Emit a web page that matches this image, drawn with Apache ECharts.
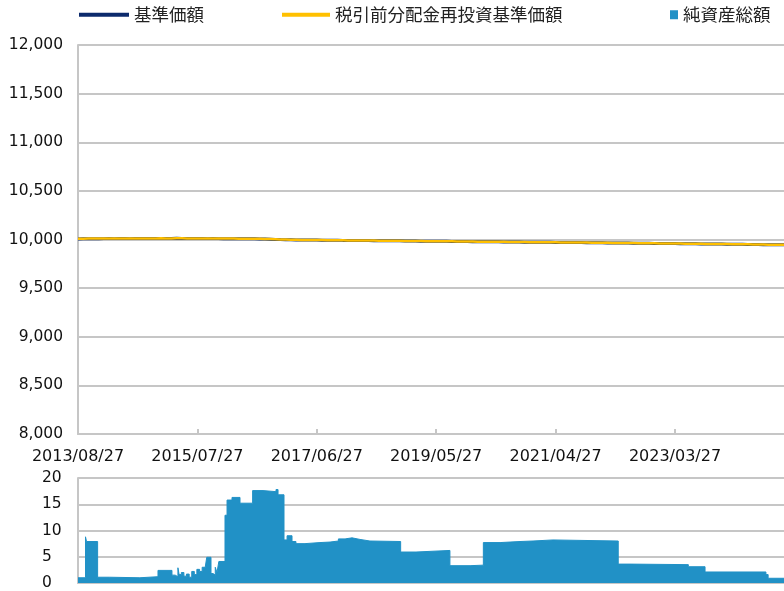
<!DOCTYPE html>
<html><head><meta charset="utf-8">
<script src="https://cdn.jsdelivr.net/npm/echarts@6/dist/echarts.min.js"></script>
<style>html,body{margin:0;padding:0;background:#fff}#c{width:784px;height:591px}</style>
</head><body><div id="c"></div>
<script>
// monthly categories 2013/08/27 .. 2024/12/27
const categories = [];
for (let y = 2013, m = 8; y < 2025; ) {
  categories.push(y + '/' + String(m).padStart(2, '0') + '/27');
  m++; if (m > 12) { m = 1; y++; }
  if (y === 2024 && m === 13) break;
}
const navNames = ['基準価額', '税引前分配金再投資基準価額', '純資産総額'];

const navValues = [
10006,10007,10008,10009,10008,10009,10010,10009,10010,10010,10009,10010,
10010,10011,10010,10011,10011,10010,10011,10012,10011,10010,10011,10010,
10010,10009,10010,10009,10008,10009,10008,10008,10007,10008,10007,10006,
10005,10003,10001,9999,9998,9997,9996,9995,9995,9994,9994,9993,
9993,9992,9992,9991,9991,9990,9990,9989,9989,9988,9988,9987,
9987,9986,9986,9985,9985,9984,9983,9983,9982,9982,9981,9981,
9980,9980,9979,9979,9978,9978,9977,9977,9976,9976,9975,9975,
9974,9974,9973,9973,9972,9972,9971,9971,9970,9970,9969,9969,
9968,9968,9967,9967,9966,9966,9965,9965,9964,9963,9963,9962,
9962,9961,9961,9960,9960,9959,9958,9958,9957,9957,9956,9956,
9955,9955,9954,9953,9953,9952,9951,9951,9950,9949,9949,9948,
9947,9947,9946,9945,9945
];
const reinvestValues = [
10007,10008,10009,10009,10009,10010,10010,10010,10010,10011,10010,10010,
10011,10011,10011,10011,10012,10011,10011,10012,10012,10011,10011,10011,
10010,10010,10010,10009,10009,10009,10009,10008,10008,10008,10007,10007,
10006,10004,10002,10000,9999,9998,9997,9996,9996,9995,9994,9994,
9993,9993,9992,9992,9991,9991,9990,9990,9989,9989,9988,9988,
9987,9987,9986,9985,9985,9984,9984,9983,9983,9982,9982,9981,
9981,9980,9980,9979,9979,9978,9978,9977,9977,9976,9976,9975,
9975,9974,9974,9973,9973,9972,9972,9971,9971,9970,9970,9969,
9969,9968,9968,9967,9967,9966,9966,9965,9964,9964,9963,9963,
9962,9962,9961,9961,9960,9959,9959,9958,9958,9957,9957,9956,
9956,9955,9955,9954,9953,9953,9952,9951,9951,9950,9949,9949,
9948,9947,9947,9946,9945
];

// net assets (step data: value holds from date until next date)
const assetDates = [
'2013-08-27','2013-10-10','2013-10-16','2013-12-20','2014-03-01','2014-08-25','2014-12-09',
'2015-03-01','2015-03-20','2015-04-05','2015-04-12','2015-04-25','2015-05-10','2015-05-25',
'2015-06-10','2015-06-25','2015-07-10','2015-07-25','2015-08-10','2015-08-25','2015-09-10',
'2015-09-21','2015-10-16','2015-10-28','2015-11-10','2015-11-20','2015-12-01','2016-01-06',
'2016-01-18','2016-02-16','2016-04-03','2016-06-16','2016-08-16','2016-10-31','2016-11-12',
'2016-12-17','2017-01-04','2017-02-02','2017-02-25','2017-04-19','2017-07-16','2017-09-13',
'2017-11-01','2017-12-10','2018-01-20','2018-03-08','2018-05-05','2018-11-01','2019-01-30',
'2019-08-17','2019-12-13','2020-02-29','2020-06-06','2020-08-03','2020-10-01','2020-12-16',
'2021-04-12','2022-04-30','2022-07-08','2023-06-15','2023-09-21','2024-09-12','2024-09-25',
'2024-12-27'
];
const assetValues = [
1.0,8.8,7.9,1.1,1.0,1.2,2.4,
1.5,1.2,2.9,1.6,2.0,1.3,1.7,
1.1,2.2,1.6,2.6,2.2,3.0,2.6,
4.9,1.8,1.5,3.0,2.0,4.1,12.9,
15.8,16.3,15.2,17.6,17.4,17.8,16.8,
8.2,9.0,7.9,7.5,7.7,7.8,8.0,
8.4,8.6,8.3,8.0,7.9,5.9,6.2,
3.3,3.4,7.7,7.8,7.9,8.0,8.2,
8.0,3.6,3.5,3.1,2.1,1.6,0.9,
0.9
];

const yTicksTop = [8000, 12000, 500];
const yTicksBottom = [0, 20, 5];

const chart = echarts.init(document.getElementById('c'));
const FONT = 'DejaVu Sans';
const GRID = '#c6c6c6';
const legendText = { fontFamily: 'Noto Sans CJK JP', fontSize: 17.5, color: '#222' };
chart.setOption({
  animation: false,
  backgroundColor: '#fff',
  legend: [
    { data: [navNames[0]], left: 79, top: 6, icon: 'rect', itemWidth: 50, itemHeight: 4, textStyle: legendText, padding: 0 },
    { data: [navNames[1]], left: 282, top: 6, icon: 'rect', itemWidth: 48, itemHeight: 4, textStyle: legendText, padding: 0 },
    { data: [navNames[2]], left: 670, top: 6, icon: 'rect', itemWidth: 8, itemHeight: 9, textStyle: legendText, padding: 0 }
  ],
  grid: [
    { left: 78, right: 0, top: 45, height: 389 },
    { left: 78, right: 0, top: 478, height: 108 }
  ],
  xAxis: [
    {
      type: 'category', gridIndex: 0, data: categories, boundaryGap: false,
      axisLine: { lineStyle: { color: GRID, width: 2 } },
      axisTick: { inside: true, length: 5, interval: 22, lineStyle: { color: GRID, width: 2 } },
      axisLabel: { interval: 22, color: '#111', fontFamily: FONT, fontSize: 16, margin: 15 },
      splitLine: { show: false }
    },
    {
      type: 'time', gridIndex: 1, min: '2013-08-27', max: '2024-12-27',
      axisLine: { lineStyle: { color: GRID, width: 2 } },
      axisTick: { show: false }, axisLabel: { show: false }, splitLine: { show: false }
    }
  ],
  yAxis: [
    {
      type: 'value', gridIndex: 0, min: yTicksTop[0], max: yTicksTop[1], interval: yTicksTop[2],
      axisLine: { show: true, lineStyle: { color: GRID, width: 2 } },
      axisTick: { show: false },
      axisLabel: { color: '#111', fontFamily: FONT, fontSize: 15.5, margin: 15,
        formatter: v => v.toLocaleString('en-US') },
      splitLine: { lineStyle: { color: GRID, width: 2 } }
    },
    {
      type: 'value', gridIndex: 1, min: yTicksBottom[0], max: yTicksBottom[1], interval: yTicksBottom[2],
      axisLine: { show: true, lineStyle: { color: GRID, width: 2 } },
      axisTick: { show: false },
      axisLabel: { color: '#111', fontFamily: FONT, fontSize: 15.5, margin: 36, align: 'left' },
      splitLine: { lineStyle: { color: GRID, width: 2 } }
    }
  ],
  series: [
    { name: navNames[0], type: 'line', xAxisIndex: 0, yAxisIndex: 0, data: navValues,
      showSymbol: false, symbol: 'none', color: '#0c2a6c', lineStyle: { width: 3, color: '#0c2a6c' } },
    { name: navNames[1], type: 'line', xAxisIndex: 0, yAxisIndex: 0, data: reinvestValues,
      showSymbol: false, symbol: 'none', color: '#ffc000', lineStyle: { width: 2.5, color: '#ffc000' } },
    { name: navNames[2], type: 'line', xAxisIndex: 1, yAxisIndex: 1, step: 'end',
      data: assetDates.map((d, i) => [d, assetValues[i]]),
      showSymbol: false, symbol: 'none', color: '#2191c6',
      lineStyle: { width: 1, color: '#2191c6' }, areaStyle: { color: '#2191c6', opacity: 1 } }
  ]
});
</script></body></html>
